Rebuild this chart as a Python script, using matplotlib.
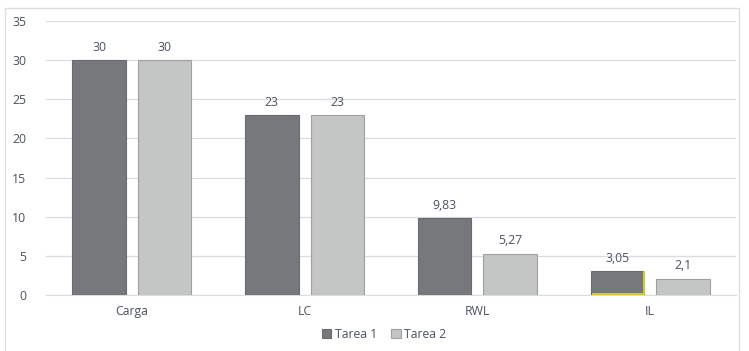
import numpy as np
import matplotlib.pyplot as plt
from matplotlib.lines import Line2D

categorias = ["Carga", "LC", "RWL", "IL"]
tarea1 = [30, 23, 9.83, 3.05]
tarea2 = [30, 23, 5.27, 2.1]
etiquetas1 = ["30", "23", "9,83", "3,05"]
etiquetas2 = ["30", "23", "5,27", "2,1"]

plt.rcParams['font.family'] = ['Open Sans', 'DejaVu Sans']
texto = '#4a5160'
fs = 8.8

fig = plt.figure(figsize=(7.49, 3.51), dpi=100)
# marco exterior del grafico (sin borde inferior)
xs = [4.5 / 749, 4.5 / 749, 738.5 / 749, 738.5 / 749]
ys = [0, 1 - 7.5 / 351, 1 - 7.5 / 351, 0]
fig.add_artist(Line2D(xs, ys, transform=fig.transFigure, color='#dcdfe3', linewidth=1))

ax = fig.add_axes([45.5 / 749, 1 - 295 / 351, 691 / 749, 274 / 351])

x = np.arange(len(categorias))
w = 0.31
off = 0.19
b1 = ax.bar(x - off, tarea1, w, color='#77787c', edgecolor='#6a6b6f', linewidth=0.8,
            label='Tarea 1', zorder=3)
b2 = ax.bar(x + off, tarea2, w, color='#c4c6c5', edgecolor='#9fa1a0', linewidth=0.8,
            label='Tarea 2', zorder=3)

# borde amarillo en la ultima barra de Tarea 1
r = b1[-1]
x0, x1 = r.get_x(), r.get_x() + r.get_width()
ax.plot([x0 + 0.01, x1, x1], [0.1, 0.1, r.get_height()], color='#e6dc1e',
        linewidth=1.2, zorder=4, solid_capstyle='butt')

for rect, t in zip(b1, etiquetas1):
    ax.text(rect.get_x() + rect.get_width() / 2, rect.get_height() + 0.8, t,
            ha='center', va='bottom', fontsize=fs, color=texto)
for rect, t in zip(b2, etiquetas2):
    ax.text(rect.get_x() + rect.get_width() / 2, rect.get_height() + 0.8, t,
            ha='center', va='bottom', fontsize=fs, color=texto)

ax.set_xlim(-0.5, len(categorias) - 0.5)
ax.set_ylim(0, 35)
ax.set_yticks(range(0, 36, 5))
ax.set_xticks(x)
ax.set_xticklabels(categorias)
ax.tick_params(axis='both', length=0, labelsize=fs, colors=texto)
ax.tick_params(axis='y', pad=14)
ax.tick_params(axis='x', pad=7)
ax.grid(axis='y', color='#d9dde3', linewidth=0.9, zorder=0)
for s in ['top', 'right', 'left']:
    ax.spines[s].set_visible(False)
ax.spines['bottom'].set_color('#d9dde3')

ax.legend(loc='center', bbox_to_anchor=(0.49, -0.145), ncol=2, frameon=False,
          fontsize=fs, labelcolor=texto, handlelength=0.75, handleheight=0.75,
          handletextpad=0.3, columnspacing=1.2)

fig.savefig('out.png', dpi=100)
